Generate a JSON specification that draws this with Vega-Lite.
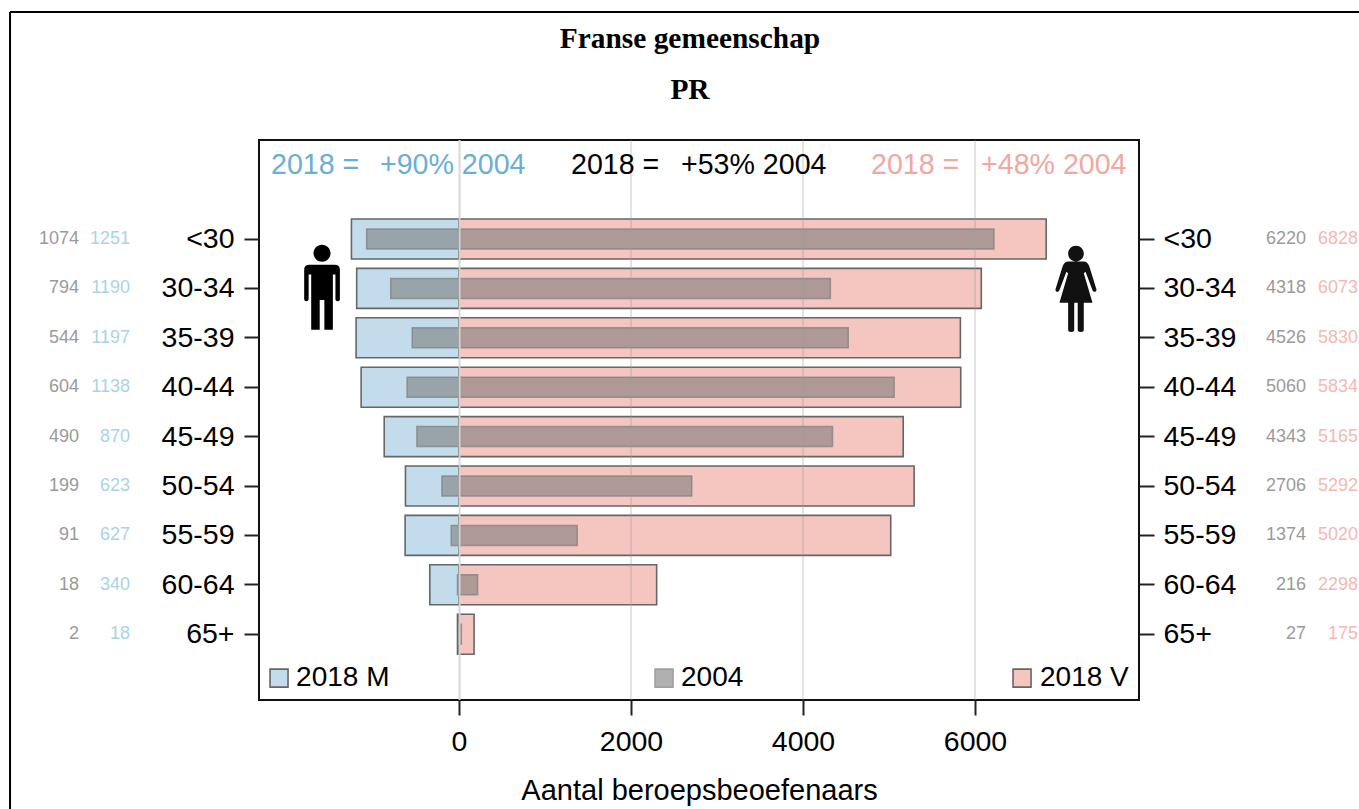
{"$schema":"https://vega.github.io/schema/vega-lite/v6.json","width":880,"height":560,"autosize":{"type":"none"},"padding":{"left":259,"top":140,"right":220,"bottom":109},"background":"white",
"title":{"text":["Franse gemeenschap","PR"],"font":"Liberation Serif","fontWeight":"bold","fontSize":29.4,"lineHeight":51,"color":"black","anchor":"middle","frame":"group","dx":-9,"offset":16,"dy":110},
"config":{"view":{"stroke":"#111111","strokeWidth":2},"font":"Liberation Sans","axis":{"domain":false,"grid":false,"tickColor":"#222222","tickWidth":2,"tickSize":15,"labelFont":"Liberation Sans","labelFontSize":28.5,"labelColor":"black","titleFont":"Liberation Sans","titleFontSize":29,"titleFontWeight":"normal","titleColor":"black"}},
"datasets":{"ages":[
{"age":"<30","m2018":1251,"m2004":1074,"v2018":6828,"v2004":6220,"m2018_links":-1251,"m2004_links":-1074},
{"age":"30-34","m2018":1190,"m2004":794,"v2018":6073,"v2004":4318,"m2018_links":-1190,"m2004_links":-794},
{"age":"35-39","m2018":1197,"m2004":544,"v2018":5830,"v2004":4526,"m2018_links":-1197,"m2004_links":-544},
{"age":"40-44","m2018":1138,"m2004":604,"v2018":5834,"v2004":5060,"m2018_links":-1138,"m2004_links":-604},
{"age":"45-49","m2018":870,"m2004":490,"v2018":5165,"v2004":4343,"m2018_links":-870,"m2004_links":-490},
{"age":"50-54","m2018":623,"m2004":199,"v2018":5292,"v2004":2706,"m2018_links":-623,"m2004_links":-199},
{"age":"55-59","m2018":627,"m2004":91,"v2018":5020,"v2004":1374,"m2018_links":-627,"m2004_links":-91},
{"age":"60-64","m2018":340,"m2004":18,"v2018":2298,"v2004":216,"m2018_links":-340,"m2004_links":-18},
{"age":"65+","m2018":18,"m2004":2,"v2018":175,"v2004":27,"m2018_links":-18,"m2004_links":-2}],
"gridTicks":[{"tick":2000},{"tick":4000},{"tick":6000}],"zeroTick":[{"tick":6}],"note":[{}]},
"data":{"name":"ages"},
"resolve":{"scale":{"y":"independent"},"axis":{"x":"independent","y":"independent"}},
"layer":[
{"mark":{"type":"bar","size":40,"fill":"#c3dceb","stroke":"#666666","strokeWidth":1.6},"encoding":{"y":{"field":"age","type":"nominal","title":null,"axis":{"orient":"left","labelPadding":10},"scale":{"type":"band","domain":["<30","30-34","35-39","40-44","45-49","50-54","55-59","60-64","65+"],"paddingInner":0,"paddingOuter":1,"align":0.5,"range":[24.9,568.3]}},"x":{"field":"m2018_links","type":"quantitative","stack":null,"title":"Aantal beroepsbeoefenaars","axis":{"values":[0,2000,4000,6000],"format":"d","labelPadding":12,"titlePadding":21},"scale":{"domain":[-2326,7907],"nice":false,"zero":false}},"x2":{"datum":0}}},
{"mark":{"type":"bar","size":40,"fill":"#f5c5c0","stroke":"#666666","strokeWidth":1.6},"encoding":{"y":{"field":"age","type":"nominal","axis":null,"scale":{"type":"band","domain":["<30","30-34","35-39","40-44","45-49","50-54","55-59","60-64","65+"],"paddingInner":0,"paddingOuter":1,"align":0.5,"range":[24.9,568.3]}},"x":{"field":"v2018","type":"quantitative","stack":null,"axis":null,"scale":{"domain":[-2326,7907],"nice":false,"zero":false}},"x2":{"datum":0}}},
{"mark":{"type":"bar","size":20,"fill":"#747474","fillOpacity":0.55,"stroke":"#808080","strokeOpacity":0.75,"strokeWidth":1.5},"encoding":{"y":{"field":"age","type":"nominal","axis":null,"scale":{"type":"band","domain":["<30","30-34","35-39","40-44","45-49","50-54","55-59","60-64","65+"],"paddingInner":0,"paddingOuter":1,"align":0.5,"range":[24.9,568.3]}},"x":{"field":"m2004_links","type":"quantitative","stack":null,"axis":null,"scale":{"domain":[-2326,7907],"nice":false,"zero":false}},"x2":{"datum":0}}},
{"mark":{"type":"bar","size":20,"fill":"#747474","fillOpacity":0.55,"stroke":"#808080","strokeOpacity":0.75,"strokeWidth":1.5},"encoding":{"y":{"field":"age","type":"nominal","axis":null,"scale":{"type":"band","domain":["<30","30-34","35-39","40-44","45-49","50-54","55-59","60-64","65+"],"paddingInner":0,"paddingOuter":1,"align":0.5,"range":[24.9,568.3]}},"x":{"field":"v2004","type":"quantitative","stack":null,"axis":null,"scale":{"domain":[-2326,7907],"nice":false,"zero":false}},"x2":{"datum":0}}},
{"data":{"name":"gridTicks"},"mark":{"type":"rule","stroke":"#999999","strokeOpacity":0.28,"strokeWidth":2},"encoding":{"x":{"field":"tick","type":"quantitative","axis":null,"scale":{"domain":[-2326,7907],"nice":false,"zero":false}}}},
{"data":{"name":"zeroTick"},"mark":{"type":"rule","stroke":"#d6d6d6","strokeOpacity":0.95,"strokeWidth":2},"encoding":{"x":{"field":"tick","type":"quantitative","axis":null,"scale":{"domain":[-2326,7907],"nice":false,"zero":false}}}},
{"mark":{"type":"text","align":"right","baseline":"middle","fontSize":18,"color":"#9a9a9a"},"encoding":{"text":{"field":"m2004","type":"quantitative","format":"d"},"y":{"field":"age","type":"nominal","axis":null,"scale":{"type":"band","domain":["<30","30-34","35-39","40-44","45-49","50-54","55-59","60-64","65+"],"paddingInner":0,"paddingOuter":1,"align":0.5,"range":[24.9,568.3]}},"x":{"datum":-4419,"type":"quantitative","axis":null,"scale":{"domain":[-2326,7907],"nice":false,"zero":false}}}},
{"mark":{"type":"text","align":"right","baseline":"middle","fontSize":18,"color":"#a9d3e8"},"encoding":{"text":{"field":"m2018","type":"quantitative","format":"d"},"y":{"field":"age","type":"nominal","axis":null,"scale":{"type":"band","domain":["<30","30-34","35-39","40-44","45-49","50-54","55-59","60-64","65+"],"paddingInner":0,"paddingOuter":1,"align":0.5,"range":[24.9,568.3]}},"x":{"datum":-3826,"type":"quantitative","axis":null,"scale":{"domain":[-2326,7907],"nice":false,"zero":false}}}},
{"mark":{"type":"text","align":"right","baseline":"middle","fontSize":18,"color":"#9a9a9a"},"encoding":{"text":{"field":"v2004","type":"quantitative","format":"d"},"y":{"field":"age","type":"nominal","axis":null,"scale":{"type":"band","domain":["<30","30-34","35-39","40-44","45-49","50-54","55-59","60-64","65+"],"paddingInner":0,"paddingOuter":1,"align":0.5,"range":[24.9,568.3]}},"x":{"datum":9849,"type":"quantitative","axis":null,"scale":{"domain":[-2326,7907],"nice":false,"zero":false}}}},
{"mark":{"type":"text","align":"right","baseline":"middle","fontSize":18,"color":"#f5b8b0"},"encoding":{"text":{"field":"v2018","type":"quantitative","format":"d"},"y":{"field":"age","type":"nominal","axis":null,"scale":{"type":"band","domain":["<30","30-34","35-39","40-44","45-49","50-54","55-59","60-64","65+"],"paddingInner":0,"paddingOuter":1,"align":0.5,"range":[24.9,568.3]}},"x":{"datum":10453,"type":"quantitative","axis":null,"scale":{"domain":[-2326,7907],"nice":false,"zero":false}}}},
{"mark":{"type":"text","text":"","opacity":0},"encoding":{"y":{"field":"age","type":"nominal","title":null,"axis":{"orient":"right","labelPadding":9},"scale":{"type":"band","domain":["<30","30-34","35-39","40-44","45-49","50-54","55-59","60-64","65+"],"paddingInner":0,"paddingOuter":1,"align":0.5,"range":[24.9,568.3]}}}},
{"data":{"name":"note"},"layer":[
{"mark":{"type":"text","text":"2018 =","align":"left","baseline":"middle","fontSize":28.6,"color":"#6baed6"},"encoding":{"x":{"datum":-2186,"type":"quantitative","axis":null,"scale":{"domain":[-2326,7907],"nice":false,"zero":false}},"y":{"datum":0.0446,"type":"quantitative","axis":null,"scale":{"domain":[0,1],"reverse":true,"nice":false,"zero":false}}}},
{"mark":{"type":"text","text":"+90% 2004","align":"left","baseline":"middle","fontSize":28.6,"color":"#6baed6"},"encoding":{"x":{"datum":-919,"type":"quantitative","axis":null,"scale":{"domain":[-2326,7907],"nice":false,"zero":false}},"y":{"datum":0.0446,"type":"quantitative","axis":null,"scale":{"domain":[0,1],"reverse":true,"nice":false,"zero":false}}}},
{"mark":{"type":"text","text":"2018 =","align":"left","baseline":"middle","fontSize":28.6,"color":"black"},"encoding":{"x":{"datum":1302,"type":"quantitative","axis":null,"scale":{"domain":[-2326,7907],"nice":false,"zero":false}},"y":{"datum":0.0446,"type":"quantitative","axis":null,"scale":{"domain":[0,1],"reverse":true,"nice":false,"zero":false}}}},
{"mark":{"type":"text","text":"+53% 2004","align":"left","baseline":"middle","fontSize":28.6,"color":"black"},"encoding":{"x":{"datum":2581,"type":"quantitative","axis":null,"scale":{"domain":[-2326,7907],"nice":false,"zero":false}},"y":{"datum":0.0446,"type":"quantitative","axis":null,"scale":{"domain":[0,1],"reverse":true,"nice":false,"zero":false}}}},
{"mark":{"type":"text","text":"2018 =","align":"left","baseline":"middle","fontSize":28.6,"color":"#f0a8a0"},"encoding":{"x":{"datum":4791,"type":"quantitative","axis":null,"scale":{"domain":[-2326,7907],"nice":false,"zero":false}},"y":{"datum":0.0446,"type":"quantitative","axis":null,"scale":{"domain":[0,1],"reverse":true,"nice":false,"zero":false}}}},
{"mark":{"type":"text","text":"+48% 2004","align":"left","baseline":"middle","fontSize":28.6,"color":"#f0a8a0"},"encoding":{"x":{"datum":6070,"type":"quantitative","axis":null,"scale":{"domain":[-2326,7907],"nice":false,"zero":false}},"y":{"datum":0.0446,"type":"quantitative","axis":null,"scale":{"domain":[0,1],"reverse":true,"nice":false,"zero":false}}}},
{"mark":{"type":"point","shape":"square","size":324,"filled":true,"fill":"#c3dceb","stroke":"#666666","strokeWidth":1.6,"opacity":1},"encoding":{"x":{"datum":-2093,"type":"quantitative","axis":null,"scale":{"domain":[-2326,7907],"nice":false,"zero":false}},"y":{"datum":0.961,"type":"quantitative","axis":null,"scale":{"domain":[0,1],"reverse":true,"nice":false,"zero":false}}}},
{"mark":{"type":"text","text":"2018 M","align":"left","baseline":"middle","fontSize":28,"color":"black"},"encoding":{"x":{"datum":-1895,"type":"quantitative","axis":null,"scale":{"domain":[-2326,7907],"nice":false,"zero":false}},"y":{"datum":0.961,"type":"quantitative","axis":null,"scale":{"domain":[0,1],"reverse":true,"nice":false,"zero":false}}}},
{"mark":{"type":"point","shape":"square","size":324,"filled":true,"fill":"#b0b0b0","stroke":"#a0a0a0","strokeWidth":1.6,"opacity":1},"encoding":{"x":{"datum":2384,"type":"quantitative","axis":null,"scale":{"domain":[-2326,7907],"nice":false,"zero":false}},"y":{"datum":0.961,"type":"quantitative","axis":null,"scale":{"domain":[0,1],"reverse":true,"nice":false,"zero":false}}}},
{"mark":{"type":"text","text":"2004","align":"left","baseline":"middle","fontSize":28,"color":"black"},"encoding":{"x":{"datum":2581,"type":"quantitative","axis":null,"scale":{"domain":[-2326,7907],"nice":false,"zero":false}},"y":{"datum":0.961,"type":"quantitative","axis":null,"scale":{"domain":[0,1],"reverse":true,"nice":false,"zero":false}}}},
{"mark":{"type":"point","shape":"square","size":324,"filled":true,"fill":"#f5c5c0","stroke":"#666666","strokeWidth":1.6,"opacity":1},"encoding":{"x":{"datum":6547,"type":"quantitative","axis":null,"scale":{"domain":[-2326,7907],"nice":false,"zero":false}},"y":{"datum":0.961,"type":"quantitative","axis":null,"scale":{"domain":[0,1],"reverse":true,"nice":false,"zero":false}}}},
{"mark":{"type":"text","text":"2018 V","align":"left","baseline":"middle","fontSize":28,"color":"black"},"encoding":{"x":{"datum":6756,"type":"quantitative","axis":null,"scale":{"domain":[-2326,7907],"nice":false,"zero":false}},"y":{"datum":0.961,"type":"quantitative","axis":null,"scale":{"domain":[0,1],"reverse":true,"nice":false,"zero":false}}}},
{"mark":{"type":"point","shape":"M-.2,-.8a.2,.2 0 1,0 .4,0a.2,.2 0 1,0 -.4,0ZM-.3,-.53H.3Q.42,-.53 .42,-.41V.28Q.42,.33 .37,.33Q.315,.33 .315,.28V-.3H.255V1H.055V.3H-.055V1H-.255V-.3H-.315V.28Q-.315,.33 -.37,.33Q-.42,.33 -.42,.28V-.41Q-.42,-.53 -.3,-.53Z","size":7225,"filled":true,"fill":"black","strokeWidth":0,"opacity":1},"encoding":{"x":{"datum":-1593,"type":"quantitative","axis":null,"scale":{"domain":[-2326,7907],"nice":false,"zero":false}},"y":{"datum":0.263,"type":"quantitative","axis":null,"scale":{"domain":[0,1],"reverse":true,"nice":false,"zero":false}}}},
{"mark":{"type":"point","shape":"M-.18,-.8a.18,.18 0 1,0 .36,0a.18,.18 0 1,0 -.36,0ZM-.17,-.62H.17Q.27,-.62 .31,-.5L.47,.02Q.48,.08 .43,.08Q.4,.08 .38,.04L.22,-.38L.18,-.35L.38,.33H.18V.95Q.18,1 .11,1Q.04,1 .04,.95V.33H-.04V.95Q-.04,1 -.11,1Q-.18,1 -.18,.95V.33H-.38L-.18,-.35L-.22,-.38L-.38,.04Q-.4,.08 -.43,.08Q-.48,.08 -.47,.02L-.31,-.5Q-.27,-.62 -.17,-.62Z","size":7569,"filled":true,"fill":"#111111","strokeWidth":0,"opacity":1},"encoding":{"x":{"datum":7174,"type":"quantitative","axis":null,"scale":{"domain":[-2326,7907],"nice":false,"zero":false}},"y":{"datum":0.265,"type":"quantitative","axis":null,"scale":{"domain":[0,1],"reverse":true,"nice":false,"zero":false}}}},
{"mark":{"type":"rule","stroke":"black","strokeWidth":2},"encoding":{"x":{"datum":-5221,"type":"quantitative","axis":null,"scale":{"domain":[-2326,7907],"nice":false,"zero":false}},"x2":{"datum":10465},"y":{"datum":-0.2286,"type":"quantitative","axis":null,"scale":{"domain":[0,1],"reverse":true,"nice":false,"zero":false}}}},
{"mark":{"type":"rule","stroke":"black","strokeWidth":2},"encoding":{"x":{"datum":-5221,"type":"quantitative","axis":null,"scale":{"domain":[-2326,7907],"nice":false,"zero":false}},"y":{"datum":-0.2286,"type":"quantitative","axis":null,"scale":{"domain":[0,1],"reverse":true,"nice":false,"zero":false}},"y2":{"datum":1.195}}}
]}
]}
